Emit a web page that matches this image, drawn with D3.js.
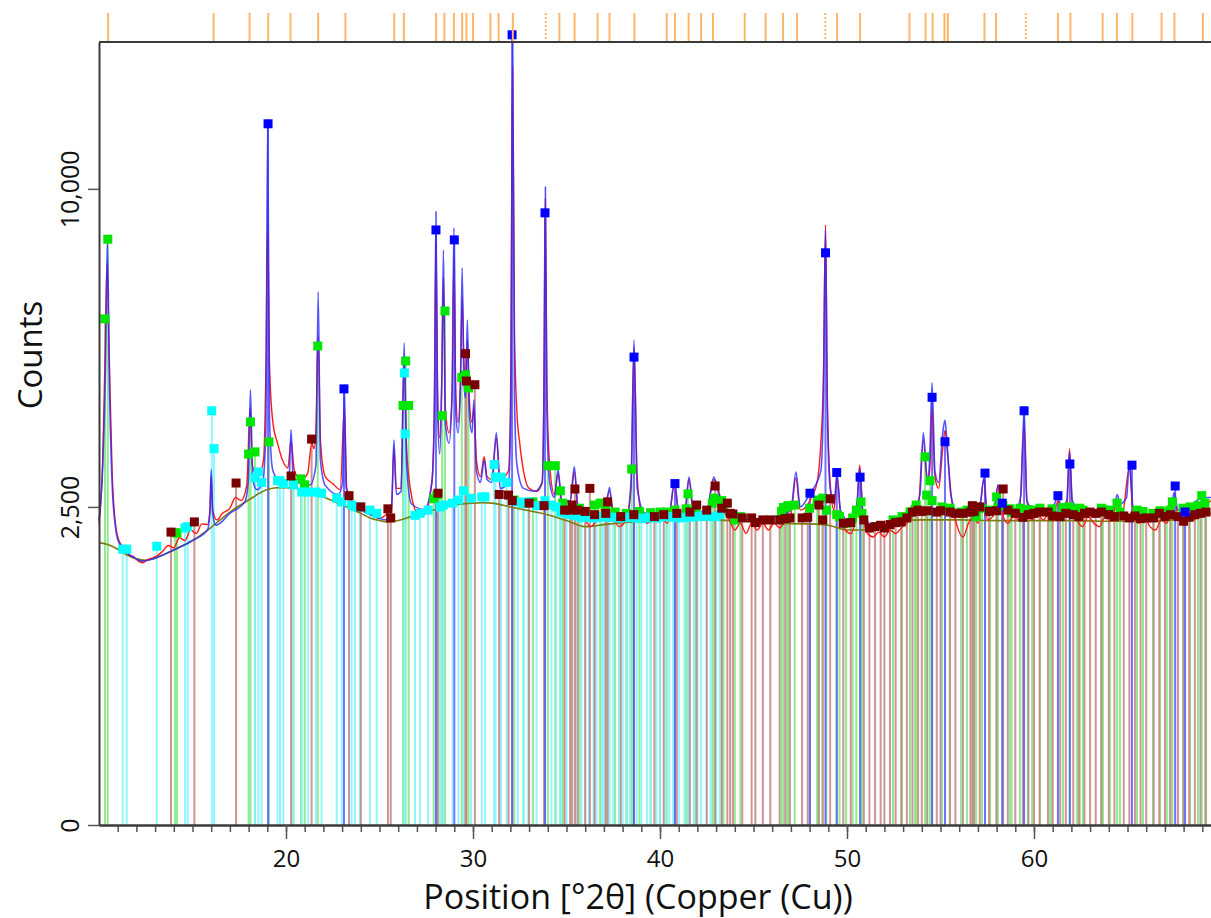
<!DOCTYPE html>
<html>
<head>
<meta charset="utf-8">
<script src="https://cdn.jsdelivr.net/npm/d3@7"></script>
<style>
  body { margin: 0; background: #fff; }
  svg { display: block; font-family: "Open Sans", sans-serif; }
</style>
</head>
<body>
<svg id="chart" width="1211" height="918"></svg>
<script>
// reference pattern lines drawn above the frame (°2θ)
const refLines = [10.49, 16.13, 18.05, 19.05, 20.24, 21.72, 23.18, 25.79, 26.30, 28.03, 28.47, 28.98,
  29.42, 29.65, 30.0, 30.93, 31.37, 32.13, 34.62, 35.43, 36.66, 37.30, 38.63, 40.36, 40.80, 41.53,
  42.20, 42.83, 44.53, 45.65, 46.58, 47.33, 49.47, 50.70, 53.34, 54.20, 54.58, 55.21, 55.39, 57.35,
  57.97, 61.28, 61.95, 63.67, 64.43, 65.26, 66.82, 67.51, 69.03];
const refDotted = [33.89, 48.84, 59.56];

const xTicks = [20, 30, 40, 50, 60];
const yTicks = [0, 2500, 10000];

// fitted background [°2θ, counts]
const background = [[10, 1970], [10.5, 1940], [11, 1880], [11.5, 1800], [12, 1750], [12.5, 1730], [13, 1760],
  [13.5, 1810], [14, 1870], [15, 2000], [16, 2190], [17, 2420], [18, 2610], [19, 2780], [19.5, 2810],
  [20, 2810], [21, 2770], [22, 2660], [23, 2530], [24, 2400], [24.5, 2330], [25, 2290], [25.5, 2270],
  [26, 2290], [27, 2380], [28, 2460], [29, 2530], [30, 2560], [30.5, 2565], [31, 2560], [32, 2500],
  [33, 2440], [34, 2380], [35, 2290], [36, 2200], [37, 2230], [38, 2260], [39, 2280], [40, 2300],
  [42, 2300], [44, 2290], [46, 2250], [48, 2240], [49, 2220], [50, 2150], [51, 2150], [52, 2200],
  [53, 2280], [54, 2300], [56, 2300], [58, 2290], [60, 2290], [62, 2290], [64, 2280], [66, 2280],
  [68, 2320], [69.5, 2400]];

// calculated profile
const calcProfile = [[10.0, 2300], [10.2, 3200], [10.35, 5200], [10.45, 8460], [10.55, 5000], [10.7, 2900],
  [10.9, 2150], [11.1, 1950], [11.5, 1830], [12.0, 1750], [12.3, 1720], [13.0, 1760], [14.0, 1870],
  [15.0, 2000], [15.8, 2150], [15.93, 2400], [16.0, 3120], [16.08, 2400], [16.25, 2220], [17.0, 2400],
  [17.8, 2580], [17.98, 2900], [18.1, 4680], [18.22, 2950], [18.45, 2780], [18.75, 2900], [18.92, 3800],
  [19.02, 12290], [19.12, 4000], [19.3, 3100], [19.6, 2950], [20.0, 2920], [20.17, 3000], [20.27, 3860],
  [20.38, 3000], [20.6, 2900], [21.3, 2860], [21.6, 3200], [21.72, 7020], [21.84, 3300], [22.1, 2850],
  [22.8, 2700], [23.03, 2900], [23.12, 4790], [23.22, 2800], [23.5, 2600], [24.5, 2380], [25.4, 2300],
  [25.65, 2500], [25.77, 3660], [25.9, 2700], [26.15, 2750], [26.32, 5740], [26.45, 3200], [26.7, 2550],
  [27.4, 2460], [27.8, 2900], [27.93, 4000], [28.02, 9290], [28.11, 4200], [28.22, 3400], [28.33, 4800],
  [28.42, 8170], [28.52, 4000], [28.72, 3600], [28.88, 4500], [28.98, 8810], [29.08, 4200], [29.2, 3800],
  [29.33, 4800], [29.42, 7670], [29.52, 4800], [29.6, 4500], [29.7, 6300], [29.8, 4200], [29.95, 3800],
  [30.05, 4460], [30.18, 3100], [30.4, 2900], [30.6, 3290], [30.75, 2950], [31.0, 2900], [31.25, 3800],
  [31.45, 2800], [31.9, 2900], [32.02, 4200], [32.12, 15310], [32.22, 4500], [32.35, 3200], [32.7, 2800],
  [33.3, 2750], [33.7, 2900], [33.79, 4500], [33.87, 10060], [33.95, 4200], [34.1, 2900], [34.35, 2650],
  [34.55, 3120], [34.75, 2550], [35.2, 2600], [35.42, 3170], [35.6, 2500], [36.0, 2350], [36.6, 2300],
  [37.1, 2450], [37.3, 2820], [37.5, 2350], [38.2, 2350], [38.45, 2900], [38.61, 5810], [38.78, 2800],
  [39.2, 2400], [39.8, 2370], [40.5, 2400], [40.78, 2940], [41.0, 2420], [41.35, 2450], [41.55, 2990],
  [41.8, 2420], [42.5, 2450], [42.88, 2990], [43.1, 2750], [43.4, 2500], [43.8, 2420], [44.5, 2300],
  [45.5, 2330], [46.5, 2380], [47.0, 2450], [47.27, 3080], [47.5, 2500], [47.9, 2650], [48.1, 2750],
  [48.6, 3100], [48.74, 4500], [48.85, 8750], [48.95, 4200], [49.1, 2800], [49.3, 2550], [49.47, 3030],
  [49.65, 2450], [50.2, 2260], [50.55, 2600], [50.68, 3150], [50.85, 2400], [51.5, 2200], [52.5, 2250],
  [53.5, 2400], [53.9, 2700], [54.08, 3800], [54.3, 2950], [54.42, 3300], [54.55, 4830], [54.7, 3100],
  [54.9, 2900], [55.12, 3800], [55.24, 4050], [55.35, 3600], [55.55, 2700], [56.0, 2350], [56.7, 2370],
  [57.15, 2600], [57.32, 2980], [57.5, 2420], [57.9, 2450], [58.08, 2860], [58.3, 2450], [59.0, 2420],
  [59.3, 2700], [59.47, 4260], [59.62, 2600], [60.0, 2450], [60.6, 2450], [61.1, 2550], [61.28, 2700],
  [61.45, 2500], [61.75, 2600], [61.9, 3440], [62.05, 2600], [62.4, 2450], [63.0, 2380], [64.0, 2400],
  [64.3, 2500], [64.45, 2700], [64.6, 2550], [64.95, 2650], [65.1, 3260], [65.3, 2500], [66.0, 2400],
  [66.5, 2350], [67.3, 2450], [67.5, 2730], [67.7, 2450], [68.1, 2450], [68.5, 2550], [69.0, 2650],
  [69.5, 2650]];

// observed scan
const obsProfile = [[10.0, 2250], [10.2, 3300], [10.33, 5600], [10.43, 7800], [10.55, 5400], [10.7, 3100],
  [10.9, 2200], [11.1, 1980], [11.35, 1900], [11.6, 1800], [11.85, 1780], [12.1, 1720], [12.35, 1700],
  [12.6, 1740], [12.85, 1760], [13.1, 1790], [13.4, 1850], [13.7, 1930], [14.0, 1900], [14.3, 2040],
  [14.6, 2000], [14.9, 2150], [15.2, 2100], [15.5, 2240], [15.8, 2230], [15.93, 2450], [16.0, 3000],
  [16.08, 2450], [16.3, 2300], [16.6, 2400], [17.0, 2480], [17.3, 2650], [17.6, 2600], [17.9, 2850],
  [18.08, 4300], [18.2, 3200], [18.5, 3000], [18.8, 3300], [18.92, 5000], [19.02, 8900], [19.12, 5200],
  [19.3, 4000], [19.55, 3600], [19.8, 3300], [20.1, 3150], [20.27, 3650], [20.45, 3100], [20.8, 2950],
  [21.15, 3050], [21.38, 3600], [21.5, 3500], [21.6, 3900], [21.72, 5900], [21.85, 3600], [22.1, 3000],
  [22.5, 2880], [22.9, 2780], [23.12, 4300], [23.25, 2800], [23.6, 2560], [24.0, 2480], [24.5, 2400],
  [25.0, 2330], [25.4, 2400], [25.65, 2550], [25.77, 3500], [25.9, 2800], [26.15, 2800], [26.32, 5300],
  [26.45, 3500], [26.7, 2700], [27.0, 2420], [27.4, 2380], [27.8, 2900], [27.93, 4300], [28.02, 8400],
  [28.11, 4500], [28.22, 3700], [28.33, 4900], [28.42, 7400], [28.52, 4300], [28.72, 3800], [28.88, 4600],
  [28.98, 7900], [29.08, 4600], [29.2, 4000], [29.33, 4900], [29.42, 6900], [29.52, 5200], [29.62, 4900],
  [29.7, 5800], [29.8, 4500], [29.95, 4000], [30.05, 4300], [30.18, 3300], [30.4, 3000], [30.6, 3350],
  [30.75, 3000], [31.0, 2950], [31.25, 3700], [31.45, 2950], [31.9, 3100], [32.02, 5000], [32.12, 14200],
  [32.22, 6000], [32.35, 4200], [32.5, 3600], [32.7, 3100], [33.0, 2800], [33.4, 2750], [33.7, 2900],
  [33.79, 4500], [33.87, 9700], [33.95, 4800], [34.1, 3200], [34.35, 2700], [34.55, 3050], [34.75, 2600],
  [35.2, 2600], [35.42, 3080], [35.6, 2550], [36.0, 2300], [36.3, 2200], [36.6, 2300], [37.0, 2450],
  [37.3, 2750], [37.5, 2400], [37.8, 2200], [38.2, 2300], [38.45, 2800], [38.61, 5650], [38.78, 3000],
  [39.0, 2400], [39.3, 2250], [39.6, 2300], [40.0, 2350], [40.4, 2250], [40.78, 2850], [41.0, 2400],
  [41.3, 2380], [41.55, 2950], [41.8, 2350], [42.2, 2300], [42.5, 2400], [42.88, 2950], [43.1, 2800],
  [43.4, 2450], [43.7, 2300], [44.0, 2150], [44.3, 2250], [44.6, 2100], [44.9, 2250], [45.2, 2150],
  [45.5, 2250], [45.8, 2150], [46.1, 2250], [46.4, 2180], [46.7, 2300], [47.0, 2400], [47.27, 2980],
  [47.5, 2450], [47.8, 2500], [48.1, 2650], [48.4, 2900], [48.6, 3600], [48.74, 5000], [48.85, 8900],
  [48.95, 4500], [49.1, 2900], [49.3, 2450], [49.47, 2980], [49.65, 2400], [49.9, 2150], [50.2, 2100],
  [50.5, 2400], [50.68, 3200], [50.85, 2400], [51.1, 2100], [51.4, 2050], [51.7, 2120], [52.0, 2050],
  [52.3, 2150], [52.6, 2100], [52.9, 2180], [53.2, 2250], [53.5, 2350], [53.8, 2450], [54.08, 3650],
  [54.3, 2900], [54.42, 3100], [54.55, 4300], [54.7, 3000], [54.9, 2800], [55.12, 3500], [55.24, 3850],
  [55.38, 3400], [55.6, 2600], [55.9, 2200], [56.2, 2050], [56.5, 2250], [56.8, 2350], [57.0, 2250],
  [57.32, 2950], [57.5, 2300], [57.8, 2350], [58.08, 2850], [58.3, 2400], [58.6, 2250], [58.9, 2350],
  [59.2, 2300], [59.47, 3950], [59.62, 2600], [59.9, 2300], [60.2, 2380], [60.5, 2300], [60.8, 2400],
  [61.0, 2280], [61.28, 2600], [61.45, 2350], [61.75, 2450], [61.9, 3500], [62.05, 2500], [62.3, 2300],
  [62.6, 2200], [62.9, 2350], [63.2, 2250], [63.5, 2200], [63.8, 2350], [64.1, 2280], [64.45, 2550],
  [64.7, 2350], [65.1, 3150], [65.3, 2400], [65.6, 2250], [65.9, 2350], [66.2, 2200], [66.5, 2150],
  [66.8, 2300], [67.1, 2250], [67.5, 2650], [67.7, 2350], [68.0, 2250], [68.3, 2380], [68.6, 2300],
  [68.9, 2450], [69.2, 2550], [69.5, 2600]];

// phase stick patterns [°2θ, counts]
const greenSticks = [[10.32, 6330], [10.47, 8480], [14.06, 2110], [14.17, 2108], [18.0, 3400], [18.1, 4015],
  [18.34, 3440], [19.09, 3626], [20.4, 2890], [20.8, 2960], [21.0, 2860], [21.7, 5670], [26.26, 4350],
  [26.4, 5320], [26.56, 4350], [27.9, 2630], [28.07, 2690], [28.35, 4140], [28.5, 6530], [29.4, 4950],
  [29.6, 5010], [29.76, 4720], [32.2, 2610], [32.7, 2560], [33.2, 2580], [34.0, 3190], [34.4, 3190],
  [34.67, 2760], [34.8, 2560], [35.7, 2480], [36.5, 2530], [36.8, 2560], [37.1, 2450], [37.6, 2420],
  [38.2, 2400], [38.49, 3130], [38.9, 2430], [39.5, 2410], [40.0, 2420], [40.36, 2420], [40.8, 2450],
  [41.4, 2470], [41.5, 2710], [41.9, 2450], [42.8, 2560], [42.9, 2640], [43.3, 2600], [43.4, 2500],
  [44.0, 2300], [44.3, 2350], [46.5, 2430], [46.6, 2490], [46.8, 2500], [46.85, 2520], [47.2, 2530],
  [48.0, 2480], [48.4, 2560], [48.45, 2610], [48.7, 2640], [48.9, 2450], [49.45, 2380], [49.6, 2350],
  [49.95, 2250], [50.3, 2330], [50.5, 2450], [50.75, 2580], [50.8, 2400], [52.46, 2300], [52.94, 2350],
  [53.37, 2420], [53.64, 2460], [53.7, 2530], [54.17, 3350], [54.26, 2690], [54.44, 2930], [54.55, 2600],
  [55.08, 2500], [55.51, 2480], [56.1, 2420], [56.42, 2450], [56.74, 2500], [56.9, 2350], [57.22, 2480],
  [57.65, 2450], [58.0, 2660], [58.07, 2500], [58.34, 2520], [58.72, 2470], [58.8, 2420], [59.25, 2480],
  [59.68, 2460], [59.9, 2450], [60.32, 2480], [60.86, 2420], [60.96, 2470], [61.55, 2490], [61.9, 2500],
  [62.3, 2460], [62.45, 2480], [62.62, 2450], [63.6, 2480], [63.69, 2460], [64.06, 2450], [64.44, 2560],
  [64.6, 2420], [65.51, 2450], [65.83, 2430], [66.36, 2400], [66.74, 2440], [67.1, 2420], [67.27, 2450],
  [67.4, 2580], [67.97, 2480], [68.34, 2500], [68.77, 2520], [68.97, 2680], [69.14, 2560]];

const cyanSticks = [[11.27, 1880], [11.48, 1880], [13.09, 1920], [14.6, 2180], [14.74, 2200], [16.03, 4240],
  [16.15, 3500], [18.34, 2980], [18.52, 3080], [18.7, 2900], [19.55, 2930], [19.68, 2930], [19.86, 2880],
  [20.39, 2860], [20.84, 2740], [21.19, 2740], [21.59, 2740], [21.9, 2720], [22.71, 2640], [22.98, 2580],
  [23.51, 2530], [23.69, 2500], [23.96, 2500], [24.49, 2450], [24.85, 2400], [26.33, 5050], [26.37, 3780],
  [26.9, 2370], [27.17, 2400], [27.6, 2450], [28.24, 2500], [28.42, 2530], [28.9, 2560], [29.22, 2610],
  [29.49, 2760], [29.9, 2640], [30.47, 2660], [30.64, 2660], [31.13, 3210], [31.2, 2990], [31.5, 2990],
  [31.8, 2900], [32.4, 2580], [32.7, 2560], [32.95, 2580], [33.4, 2520], [33.85, 2600], [34.2, 2530],
  [34.45, 2500], [34.7, 2420], [35.0, 2400], [35.2, 2380], [35.5, 2360], [35.8, 2340], [36.0, 2350],
  [36.2, 2340], [36.45, 2330], [36.6, 2340], [36.9, 2350], [37.0, 2350], [37.3, 2340], [37.5, 2340],
  [37.8, 2330], [38.0, 2330], [38.25, 2340], [38.4, 2340], [38.75, 2330], [39.0, 2320], [39.3, 2330],
  [39.5, 2340], [39.8, 2330], [40.0, 2340], [40.3, 2350], [40.5, 2350], [40.7, 2340], [41.0, 2330],
  [41.3, 2340], [41.5, 2340], [41.8, 2350], [42.0, 2350], [42.2, 2360], [42.5, 2360], [42.7, 2350],
  [43.0, 2350], [43.2, 2380]];

const maroonSticks = [[13.85, 2120], [15.1, 2270], [17.33, 2890], [20.27, 3010], [21.37, 3680], [23.37, 2680],
  [24.0, 2500], [25.45, 2470], [25.6, 2330], [28.13, 2720], [29.6, 5490], [29.65, 4870], [30.1, 4790],
  [31.4, 2700], [31.9, 2690], [32.1, 2600], [33.0, 2560], [33.8, 2520], [34.9, 2450], [35.2, 2450],
  [35.3, 2530], [35.45, 2790], [35.6, 2450], [36.0, 2430], [36.25, 2800], [36.5, 2380], [37.1, 2400],
  [37.2, 2580], [37.9, 2350], [38.6, 2380], [39.7, 2350], [40.2, 2380], [40.9, 2400], [41.6, 2420],
  [41.96, 2530], [42.5, 2450], [42.95, 2840], [43.3, 2480], [43.6, 2560], [43.75, 2400], [43.9, 2390],
  [44.4, 2330], [44.9, 2330], [45.1, 2260], [45.5, 2300], [45.9, 2300], [46.4, 2300], [46.7, 2320],
  [46.95, 2330], [47.6, 2330], [47.9, 2340], [48.5, 2530], [48.7, 2300], [49.1, 2630], [49.8, 2250],
  [50.2, 2260], [50.9, 2300], [51.2, 2180], [51.5, 2200], [51.8, 2220], [52.0, 2180], [52.3, 2230],
  [52.6, 2260], [52.9, 2270], [53.2, 2330], [53.5, 2420], [53.8, 2450], [54.0, 2430], [54.3, 2440],
  [54.8, 2420], [55.0, 2440], [55.5, 2420], [55.8, 2400], [56.2, 2400], [56.6, 2420], [56.7, 2520],
  [56.8, 2430], [57.1, 2500], [57.6, 2430], [58.0, 2440], [58.35, 2790], [58.6, 2450], [59.0, 2400],
  [59.4, 2340], [59.7, 2380], [60.0, 2400], [60.3, 2420], [60.75, 2420], [61.0, 2360], [61.4, 2350],
  [61.7, 2400], [62.1, 2380], [62.4, 2350], [62.7, 2400], [63.0, 2420], [63.3, 2400], [63.6, 2420],
  [64.0, 2380], [64.3, 2350], [64.8, 2360], [65.1, 2330], [65.4, 2360], [65.7, 2320], [66.0, 2330],
  [66.4, 2330], [66.7, 2400], [67.0, 2350], [67.3, 2380], [67.7, 2350], [68.0, 2280], [68.3, 2340],
  [68.6, 2380], [68.9, 2400], [69.2, 2420]];

const blueSticks = [[19.04, 12150], [23.1, 4700], [28.02, 8750], [29.0, 8460], [32.09, 15430], [33.85, 9260],
  [38.61, 5410], [40.8, 2880], [48.02, 2720], [48.85, 8090], [49.45, 3070], [50.7, 2990], [54.55, 4520],
  [55.24, 3630], [57.38, 3060], [58.3, 2560], [59.47, 4240], [61.28, 2680], [61.92, 3220], [65.24, 3200],
  [67.55, 2840], [68.08, 2420]];

const phases = [
  { data: greenSticks, stick: "#7ee87e", mark: "#00e600" },
  { data: cyanSticks, stick: "#7ff4ff", mark: "#00ffff" },
  { data: maroonSticks, stick: "#c48484", mark: "#7a0000" },
  { data: blueSticks, stick: "#5a5aff", mark: "#0000ff" }
];

const svg = d3.select("#chart");
const x = d3.scaleLinear().domain([10, 70]).range([99, 1221]);
const y = d3.scaleSqrt().domain([0, 15150]).range([825, 42]);
const frameColor = "#3a3a3a";

// sticks
const sticks = svg.append("g").attr("class", "sticks");
phases.forEach((p) => {
  sticks.append("g")
    .selectAll("line")
    .data(p.data)
    .join("line")
    .attr("x1", (d) => x(d[0]))
    .attr("x2", (d) => x(d[0]))
    .attr("y1", y(0))
    .attr("y2", (d) => y(d[1]))
    .attr("stroke", p.stick)
    .attr("stroke-width", 2)
    .attr("opacity", 0.85);
});

// profiles
const line = d3.line()
  .x((d) => x(d[0]))
  .y((d) => y(d[1]))
  .curve(d3.curveMonotoneX);

svg.append("path").datum(background)
  .attr("d", line).attr("fill", "none")
  .attr("stroke", "#7d7d10").attr("stroke-width", 1.6);

svg.append("path").datum(obsProfile)
  .attr("d", line).attr("fill", "none")
  .attr("stroke", "#ff1a1a").attr("stroke-width", 1.4);

svg.append("path").datum(calcProfile)
  .attr("d", line).attr("fill", "none")
  .attr("stroke", "#2a2aff").attr("stroke-width", 1.6).attr("opacity", 0.8);

// markers on top of sticks
const marks = svg.append("g").attr("class", "marks");
phases.forEach((p) => {
  marks.append("g")
    .selectAll("rect")
    .data(p.data)
    .join("rect")
    .attr("x", (d) => x(d[0]) - 4.5)
    .attr("y", (d) => y(d[1]) - 4.5)
    .attr("width", 9)
    .attr("height", 9)
    .attr("fill", p.mark);
});

// reference lines above the frame
const refs = svg.append("g");
refs.selectAll("line.ref")
  .data(refLines)
  .join("line")
  .attr("class", "ref")
  .attr("x1", (d) => x(d)).attr("x2", (d) => x(d))
  .attr("y1", 13).attr("y2", 41)
  .attr("stroke", "#ffb46a").attr("stroke-width", 2);
refs.selectAll("line.refdot")
  .data(refDotted)
  .join("line")
  .attr("class", "refdot")
  .attr("x1", (d) => x(d)).attr("x2", (d) => x(d))
  .attr("y1", 13).attr("y2", 41)
  .attr("stroke", "#ffb46a").attr("stroke-width", 2)
  .attr("stroke-dasharray", "2,2");

// frame
svg.append("line").attr("x1", 99).attr("x2", 1211).attr("y1", 42).attr("y2", 42)
  .attr("stroke", frameColor).attr("stroke-width", 2);

// x axis
const xMajor = d3.axisBottom(x).tickValues(xTicks).tickSize(14).tickSizeOuter(0).tickPadding(11);
const xMinor = d3.axisBottom(x).tickValues(d3.range(11, 70)).tickSize(7).tickSizeOuter(0).tickFormat("");

const gxMinor = svg.append("g").attr("transform", "translate(0,825)").call(xMinor);
const gx = svg.append("g").attr("transform", "translate(0,825)").call(xMajor);
[gx, gxMinor].forEach((g) => {
  g.select(".domain").attr("stroke", frameColor).attr("stroke-width", 2);
  g.selectAll(".tick line").attr("stroke", "#555").attr("stroke-width", 1.5);
});
gx.selectAll(".tick text")
  .attr("font-size", 24)
  .attr("font-family", "Open Sans, sans-serif")
  .attr("fill", "#111");

// y axis
const gy = svg.append("g").attr("transform", "translate(99,0)")
  .call(d3.axisLeft(y).tickValues(yTicks).tickSize(11).tickSizeOuter(0).tickFormat(d3.format(",")));
gy.select(".domain").attr("stroke", frameColor).attr("stroke-width", 2);
gy.selectAll(".tick line").attr("stroke", "#555").attr("stroke-width", 1.5);
gy.selectAll(".tick text")
  .attr("x", null).attr("dy", null)
  .attr("transform", "translate(-20,0) rotate(-90)")
  .attr("text-anchor", "middle")
  .attr("font-size", 25)
  .attr("font-family", "Open Sans, sans-serif")
  .attr("fill", "#111");

// titles
svg.append("text")
  .attr("transform", "translate(42,355) rotate(-90)")
  .attr("text-anchor", "middle")
  .attr("font-size", 33)
  .attr("fill", "#111")
  .text("Counts");

svg.append("text")
  .attr("x", 638).attr("y", 909)
  .attr("text-anchor", "middle")
  .attr("font-size", 34)
  .attr("fill", "#111")
  .text("Position [°2θ] (Copper (Cu))");
</script>
